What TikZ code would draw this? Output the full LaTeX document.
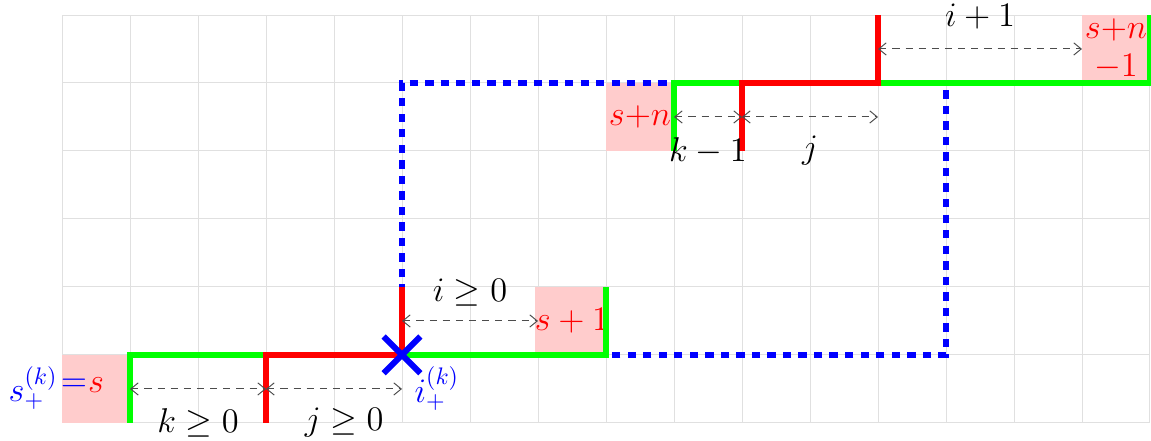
\documentclass[tikz,border=0pt]{standalone}
\usetikzlibrary{arrows.meta}
\begin{document}
\begin{tikzpicture}[x=1cm,y=1cm,
  gridline/.style={draw=black!12,line width=0.4pt},
  pinkbox/.style={fill=red!20,draw=none,minimum size=1cm,inner sep=0pt,text=red,font=\Large},
  gpath/.style={draw={rgb,1:red,0;green,1;blue,0},line width=2.3pt},
  rpath/.style={draw=red,line width=2.3pt},
  bpath/.style={draw=blue,line width=2.2pt,dash pattern=on 3.5pt off 3pt},
  measure/.style={draw=black!70,dash pattern=on 3pt off 2.5pt,line width=0.4pt,{Straight Barb[length=1.1mm,width=1.8mm]}-{Straight Barb[length=1.1mm,width=1.8mm]}},
  mlabel/.style={font=\Large,inner sep=0pt},
  blab/.style={text=blue,font=\Large,inner sep=0pt}]
\useasboundingbox (-0.912,-0.265) rectangle (16.015,6.22);
\draw[gridline] (0,0) grid (16,6);
% pink boxes
\node[pinkbox] (bs) at (0.5,0.5) {};
\node[pinkbox] (bs1) at (7.5,1.5) {$s+1$};
\node[pinkbox] (bsn) at (8.5,4.5) {$s{+}n$};
\node[pinkbox,align=center] (bsn1) at (15.5,5.5) {$s{+}n$\\[-2pt]$-1$};
\node[text=red,font=\Large,inner sep=0pt] (stxt) at (0.5,0.55) {$s$};
\node[blab,anchor=east] (eq) at (stxt.west) {$=$};
\node[blab,anchor=east] (splus) at ([xshift=-1pt,yshift=-1pt]eq.west) {$s_+^{(k)}$};
% coordinates
\coordinate (a0) at (1,0); \coordinate (a1) at (1,1); \coordinate (a2) at (3,1);
\coordinate (b0) at (3,0); \coordinate (x) at (5,1); \coordinate (b3) at (5,2);
\coordinate (c2) at (8,1); \coordinate (c3) at (8,2);
\coordinate (d0) at (9,4); \coordinate (d1) at (9,5); \coordinate (d2) at (10,5);
\coordinate (e0) at (10,4); \coordinate (e2) at (12,5); \coordinate (e3) at (12,6);
\coordinate (f3) at (16,5); \coordinate (f4) at (16,6);
\coordinate (r1) at (5,5); \coordinate (r2) at (13,5); \coordinate (r3) at (13,1);
% blue dashed rectangle
\draw[bpath] (x) -- (r1) -- (r2) -- (r3) -- cycle;
% green paths
\draw[gpath] (a0) -- (a1) -- (a2);
\draw[gpath] (x) -- (c2) -- (c3);
\draw[gpath] (d0) -- (d1) -- (d2);
\draw[gpath] (e2) -- (f3) -- (f4);
% red paths
\draw[rpath] (b0) -- (a2) -- (x) -- (b3);
\draw[rpath] (e0) -- (d2) -- (e2) -- (e3);
% blue cross
\draw[blue,line width=2.5pt] ([shift={(-0.27,-0.27)}]x) -- ([shift={(0.27,0.27)}]x)
  ([shift={(-0.27,0.27)}]x) -- ([shift={(0.27,-0.27)}]x);
\node[blab,anchor=north west] (iplus) at ([shift={(0.18,-0.17)}]x) {$i_+^{(k)}$};
% measurement arrows
\coordinate (m1) at (1,0.5); \coordinate (m2) at (3,0.5); \coordinate (m3) at (5,0.5);
\coordinate (m4) at (5,1.5); \coordinate (m5) at (7,1.5);
\coordinate (m6) at (9,4.5); \coordinate (m7) at (10,4.5); \coordinate (m8) at (12,4.5);
\coordinate (m9) at (12,5.5); \coordinate (m10) at (15,5.5);
\draw[measure] (m1) -- (m2);
\draw[measure] (m2) -- (m3);
\draw[measure] (m4) -- (m5);
\draw[measure] (m6) -- (m7);
\draw[measure] (m7) -- (m8);
\draw[measure] (m9) -- (m10);
\node[mlabel] (lk) at (2,0) {$k\geq 0$};
\node[mlabel] (lj) at (4.15,0) {$j\geq 0$};
\node[mlabel] (li) at (6,1.92) {$i\geq 0$};
\node[mlabel] (lk1) at (9.5,4.0) {$k-1$};
\node[mlabel] (lj2) at (11,4.0) {$j$};
\node[mlabel] (li1) at (13.5,5.98) {$i+1$};
\end{tikzpicture}
\end{document}
